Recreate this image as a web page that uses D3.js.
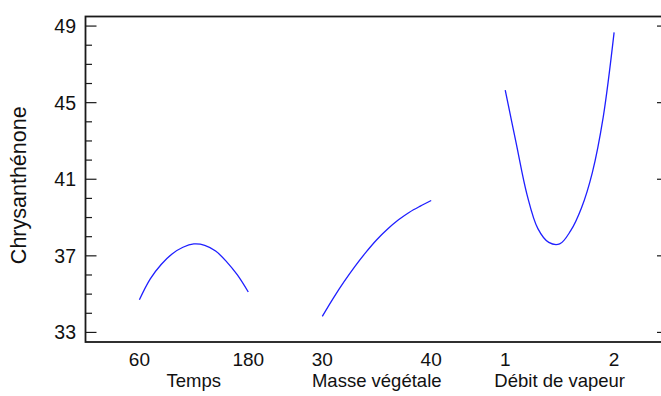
<!DOCTYPE html>
<html>
<head>
<meta charset="utf-8">
<script src="https://cdn.jsdelivr.net/npm/d3@7"></script>
<style>
  body { margin: 0; background: #fff; }
  text { font-family: "Liberation Sans", Arial, sans-serif; fill: #111; }
</style>
</head>
<body>
<script>
// main effects
const factors = ['Temps', 'Masse végétale', 'Débit de vapeur'];
const factorRanges = [[60, 180], [30, 40], [1, 2]];
const xTickLabels = [['60', '180'], ['30', '40'], ['1', '2']];

const tempsX = [60, 72, 84, 96, 108, 120, 132, 144, 156, 168, 180];
const tempsY = [34.71, 35.8, 36.55, 37.1, 37.45, 37.62, 37.55, 37.25, 36.7, 36.0, 35.11];

const masseX = [30, 31, 32, 33, 34, 35, 36, 37, 38, 39, 40];
const masseY = [33.84, 34.78, 35.65, 36.45, 37.18, 37.84, 38.4, 38.88, 39.28, 39.6, 39.89];

const debitX = [1, 1.1, 1.2, 1.3, 1.4, 1.5, 1.6, 1.7, 1.8, 1.9, 2];
const debitY = [45.66, 42.9, 40.2, 38.42, 37.7, 37.62, 38.3, 39.5, 41.35, 44.25, 48.67];

const yTicks = [33, 37, 41, 45, 49];
const yLabel = 'Chrysanthénone';

const W = 661, H = 396;
const plotLeft = 85.5, plotRight = 668, plotTop = 16.5, plotBottom = 342;
const SLOT = 1.68; // distance between factor starts, in factor-width units

const svg = d3.select('body').append('svg')
    .attr('width', W)
    .attr('height', H);

const y = d3.scaleLinear().domain([32.5, 49.5]).range([plotBottom, plotTop]);
const outer = d3.scaleLinear().domain([-0.495, 4.855]).range([plotLeft, plotRight]);

// one x scale per factor, placed in its slot
const xScales = factorRanges.map((r, i) =>
    d3.scaleLinear().domain(r).range([outer(i * SLOT), outer(i * SLOT + 1)]));

// frame
svg.append('rect')
    .attr('x', plotLeft)
    .attr('y', plotTop)
    .attr('width', plotRight - plotLeft)
    .attr('height', plotBottom - plotTop)
    .attr('fill', 'none')
    .attr('stroke', '#1a1a1a')
    .attr('stroke-width', 1.8);

// left axis: major + minor ticks pointing inward
const minorTicks = d3.range(33, 50, 1).filter(v => !yTicks.includes(v));
svg.append('g').selectAll('line')
    .data(minorTicks)
    .join('line')
    .attr('x1', plotLeft).attr('x2', plotLeft + 6.5)
    .attr('y1', d => y(d)).attr('y2', d => y(d))
    .attr('stroke', '#1a1a1a').attr('stroke-width', 1.2);

svg.append('g').selectAll('line')
    .data(yTicks)
    .join('line')
    .attr('x1', plotLeft).attr('x2', plotLeft + 11)
    .attr('y1', d => y(d)).attr('y2', d => y(d))
    .attr('stroke', '#1a1a1a').attr('stroke-width', 1.2);

// right side: major ticks only
svg.append('g').selectAll('line')
    .data(yTicks)
    .join('line')
    .attr('x1', plotRight - 11).attr('x2', plotRight)
    .attr('y1', d => y(d)).attr('y2', d => y(d))
    .attr('stroke', '#1a1a1a').attr('stroke-width', 1.2);

svg.append('g').selectAll('text')
    .data(yTicks)
    .join('text')
    .attr('x', 76)
    .attr('y', d => y(d))
    .attr('dy', '0.36em')
    .attr('text-anchor', 'end')
    .attr('font-size', 19.5)
    .text(d => d);

svg.append('text')
    .attr('transform', `translate(26,${(plotTop + plotBottom) / 2 + 6}) rotate(-90)`)
    .attr('text-anchor', 'middle')
    .attr('font-size', 21.5)
    .text(yLabel);

// x labels under each factor
factors.forEach((f, i) => {
    const xs = xScales[i];
    svg.append('text')
        .attr('x', xs(factorRanges[i][0]))
        .attr('y', 366)
        .attr('text-anchor', 'middle')
        .attr('font-size', 19)
        .text(xTickLabels[i][0]);
    svg.append('text')
        .attr('x', xs(factorRanges[i][1]))
        .attr('y', 366)
        .attr('text-anchor', 'middle')
        .attr('font-size', 19)
        .text(xTickLabels[i][1]);
    svg.append('text')
        .attr('x', (xs.range()[0] + xs.range()[1]) / 2)
        .attr('y', 386.5)
        .attr('text-anchor', 'middle')
        .attr('font-size', 18.5)
        .text(f);
});

// effect curves
const series = [[tempsX, tempsY], [masseX, masseY], [debitX, debitY]];
series.forEach(([xs, ys], i) => {
    const line = d3.line()
        .x(d => xScales[i](d[0]))
        .y(d => y(d[1]))
        .curve(d3.curveCatmullRom);
    svg.append('path')
        .datum(d3.zip(xs, ys))
        .attr('d', line)
        .attr('fill', 'none')
        .attr('stroke', '#1f1fff')
        .attr('stroke-width', 1.3);
});
</script>
</body>
</html>
